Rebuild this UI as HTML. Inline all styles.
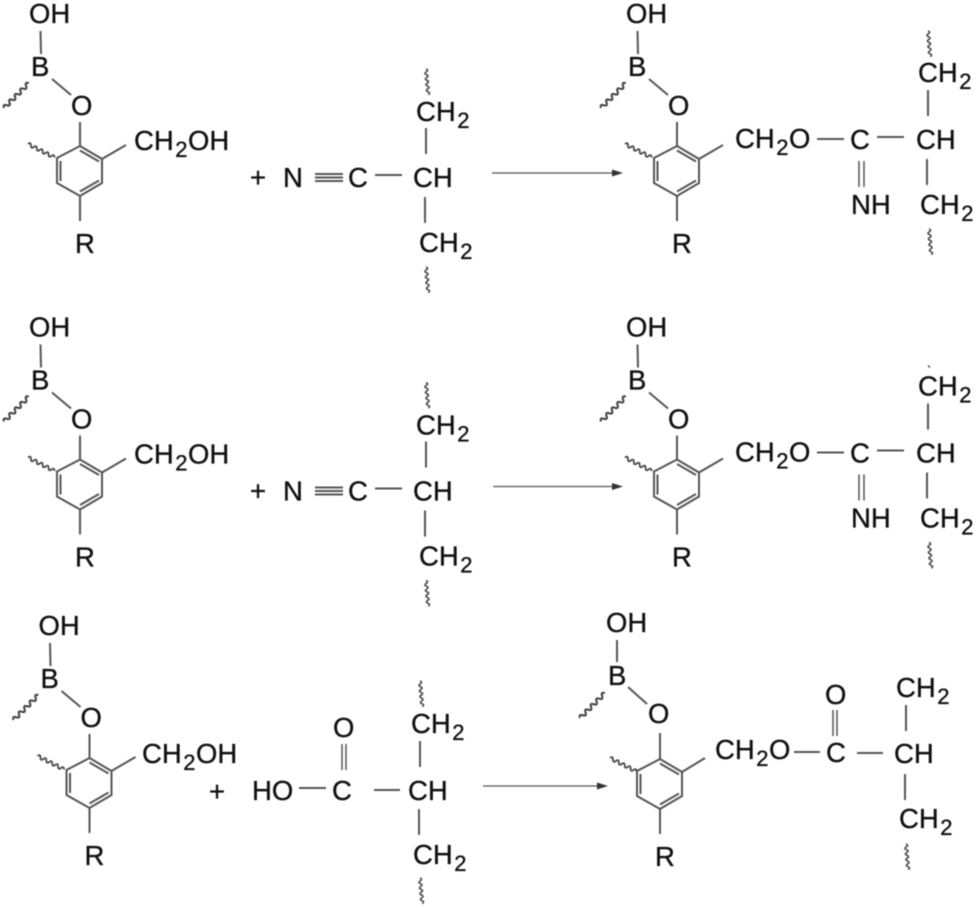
<!DOCTYPE html>
<html><head><meta charset="utf-8"><style>
html,body{margin:0;padding:0;background:#fff}
svg{display:block;filter:blur(.4px)}
text{font-family:"Liberation Sans",sans-serif;font-size:27.5px;fill:#111;stroke:#111;stroke-width:.35}
.s{font-size:22px}
.b line,.b path{stroke:#555;stroke-width:2;fill:none}
</style></head><body>
<svg width="977" height="908" viewBox="0 0 977 908" xmlns="http://www.w3.org/2000/svg">
<defs>
<path id="w" d="M0 0q1.5-3 3 0t3 0 3 0 3 0 3 0 3 0 3 0 3 0 3 0" stroke="#444" stroke-width="1.6" fill="none"/>
<g id="m" class="b">
<line x1="40.5" y1="31" x2="41" y2="54"/>
<line x1="52" y1="79" x2="71" y2="95"/>
<use href="#w" transform="translate(4,108) rotate(-45) scale(1.3)"/>
<line x1="80" y1="122" x2="80" y2="146"/>
<path d="M80 146L102 159V183L80 196L57 183V158Z"/>
<path d="M80 150.500L99 161.500M99 180.500L80 191.500M60.500 161V181"/>
<line x1="102" y1="159" x2="126" y2="145"/>
<line x1="80" y1="196" x2="80" y2="221"/>
<use href="#w" transform="translate(28,144) rotate(27) scale(1.1)"/>
</g>
</defs>

<!-- row 1 -->
<use href="#m"/>
<text x="29" y="23">OH</text><text x="31" y="76">B</text><text x="71" y="115">O</text><text x="75" y="253">R</text>
<text x="134" y="150">CH<tspan class="s" dx="1.500" dy="7">2</tspan><tspan dx=".5" dy="-7">OH</tspan></text>
<text x="250" y="187">+</text><text x="283" y="187">N</text><text x="348" y="187">C</text><text x="413" y="187">CH</text>
<text x="416" y="121">CH<tspan class="s" dx="1.500" dy="7">2</tspan></text>
<text x="419" y="252">CH<tspan class="s" dx="1.500" dy="7">2</tspan></text>
<g class="b">
<path d="M315 174H343M315 177.500H343M315 181H343" stroke-width="1.500"/>
<line x1="375" y1="175" x2="402" y2="175"/><line x1="426" y1="128" x2="426" y2="154"/><line x1="425" y1="197" x2="425" y2="223"/>
<line x1="492" y1="173" x2="615" y2="173" style="stroke-width:1.200"/>
</g>
<path d="M623 173L612 169.500V176.500Z" fill="#333"/>
<use href="#w" transform="translate(426,69) rotate(85) scale(.95)"/>
<use href="#w" transform="translate(426,267) rotate(85) scale(.95)"/>

<use href="#m" transform="translate(597,0)"/>
<text x="626" y="23">OH</text><text x="628" y="76">B</text><text x="668" y="115">O</text><text x="672" y="253">R</text>
<text x="735" y="148">CH<tspan class="s" dx="1.500" dy="7">2</tspan><tspan dx=".5" dy="-7">O</tspan></text>
<text x="850" y="149">C</text><text x="916" y="149">CH</text><text x="851" y="214">NH</text>
<text x="918" y="82">CH<tspan class="s" dx="1.500" dy="7">2</tspan></text>
<text x="920" y="214">CH<tspan class="s" dx="1.500" dy="7">2</tspan></text>
<g class="b">
<line x1="817" y1="139" x2="844" y2="139"/><line x1="877" y1="137" x2="904" y2="137"/>
<line x1="928" y1="90" x2="928" y2="116"/><line x1="927" y1="159" x2="927" y2="185"/>
<path d="M859 161V187M864 161V187" style="stroke-width:1.500"/>
</g>
<use href="#w" transform="translate(928,31) rotate(85) scale(.95)"/>
<use href="#w" transform="translate(929,229) rotate(85) scale(.95)"/>

<!-- row 2 -->
<g transform="translate(0,313.500)">
<use href="#m"/>
<text x="29" y="23">OH</text><text x="31" y="76">B</text><text x="71" y="115">O</text><text x="75" y="253">R</text>
<text x="134" y="150">CH<tspan class="s" dx="1.500" dy="7">2</tspan><tspan dx=".5" dy="-7">OH</tspan></text>
<text x="250" y="187">+</text><text x="283" y="187">N</text><text x="348" y="187">C</text><text x="413" y="187">CH</text>
<text x="416" y="121">CH<tspan class="s" dx="1.500" dy="7">2</tspan></text>
<text x="419" y="252">CH<tspan class="s" dx="1.500" dy="7">2</tspan></text>
<g class="b">
<path d="M315 174H343M315 177.500H343M315 181H343" stroke-width="1.500"/>
<line x1="375" y1="175" x2="402" y2="175"/><line x1="426" y1="128" x2="426" y2="154"/><line x1="425" y1="197" x2="425" y2="223"/>
<line x1="493" y1="173" x2="615" y2="173" style="stroke-width:1.200"/>
</g>
<path d="M623 173L612 169.500V176.500Z" fill="#333"/>
<use href="#w" transform="translate(426,69) rotate(85) scale(.95)"/>
<use href="#w" transform="translate(426,267) rotate(85) scale(.95)"/>
<use href="#m" transform="translate(597,0)"/>
<text x="626" y="23">OH</text><text x="628" y="76">B</text><text x="668" y="115">O</text><text x="672" y="253">R</text>
<text x="735" y="148">CH<tspan class="s" dx="1.500" dy="7">2</tspan><tspan dx=".5" dy="-7">O</tspan></text>
<text x="850" y="149">C</text><text x="916" y="149">CH</text><text x="851" y="214">NH</text>
<text x="918" y="82">CH<tspan class="s" dx="1.500" dy="7">2</tspan></text>
<text x="920" y="214">CH<tspan class="s" dx="1.500" dy="7">2</tspan></text>
<g class="b">
<line x1="817" y1="139" x2="844" y2="139"/><line x1="877" y1="137" x2="904" y2="137"/>
<line x1="928" y1="90" x2="928" y2="116"/><line x1="927" y1="159" x2="927" y2="185"/>
<path d="M859 161V187M864 161V187" style="stroke-width:1.500"/>
<path d="M928 52L930 54" style="stroke-width:1.500"/>
</g>
<use href="#w" transform="translate(929,229) rotate(85) scale(.95)"/>
</g>

<!-- row 3 left -->
<g transform="translate(9.500,612)">
<use href="#m"/>
<text x="29" y="23">OH</text><text x="31" y="76">B</text><text x="71" y="115">O</text><text x="75" y="253">R</text>
</g>
<text x="142" y="763">CH<tspan class="s" dx="1.500" dy="7">2</tspan><tspan dx=".5" dy="-7">OH</tspan></text>
<text x="209" y="801">+</text>
<text x="252" y="800">HO</text><text x="332" y="800">C</text><text x="333" y="737">O</text><text x="408" y="800">CH</text>
<text x="411" y="733">CH<tspan class="s" dx="1.500" dy="7">2</tspan></text>
<text x="413" y="864">CH<tspan class="s" dx="1.500" dy="7">2</tspan></text>
<g class="b">
<line x1="299" y1="788" x2="326" y2="788"/><line x1="374" y1="790" x2="400" y2="790"/>
<line x1="420" y1="741" x2="420" y2="767"/><line x1="419" y1="809" x2="419" y2="835"/>
<path d="M342 744V770M346 744V770" style="stroke-width:1.500"/>
<line x1="483" y1="786" x2="600" y2="786" style="stroke-width:1.200"/>
</g>
<path d="M608 786L597 782.500V789.500Z" fill="#333"/>
<use href="#w" transform="translate(420,681) rotate(85) scale(.95)"/>
<use href="#w" transform="translate(420,878) rotate(85) scale(.95)"/>

<!-- row 3 product -->
<g class="b">
<line x1="617" y1="640" x2="617" y2="662"/><line x1="628" y1="687" x2="647" y2="704"/>
<use href="#w" transform="translate(580,718) rotate(-45) scale(1.3)"/>
<line x1="660" y1="733" x2="660" y2="759"/>
<path d="M660 759L682 772V796L660 809L637 796V771Z"/>
<path d="M660 763.500L679 774.500M679 793.500L660 804.500M640.500 774V794"/>
<line x1="682" y1="772" x2="705" y2="758"/>
<line x1="660" y1="809" x2="660" y2="834"/>
<use href="#w" transform="translate(610,758) rotate(27) scale(1.1)"/>
<line x1="794" y1="752" x2="820" y2="752"/><line x1="857" y1="753" x2="883" y2="753"/>
<line x1="906" y1="705" x2="906" y2="731"/><line x1="905" y1="774" x2="905" y2="800"/>
<path d="M833 710V736M837 710V736" style="stroke-width:1.500"/>
</g>
<text x="606" y="632">OH</text><text x="608" y="685">B</text><text x="648" y="723">O</text><text x="655" y="866">R</text>
<text x="715" y="759">CH<tspan class="s" dx="1.500" dy="7">2</tspan><tspan dx=".5" dy="-7">O</tspan></text>
<text x="826" y="762">C</text><text x="825" y="704">O</text><text x="894" y="763">CH</text>
<text x="896" y="697">CH<tspan class="s" dx="1.500" dy="7">2</tspan></text>
<text x="899" y="828">CH<tspan class="s" dx="1.500" dy="7">2</tspan></text>
<use href="#w" transform="translate(906,844) rotate(85) scale(.95)"/>
</svg>
</body></html>
